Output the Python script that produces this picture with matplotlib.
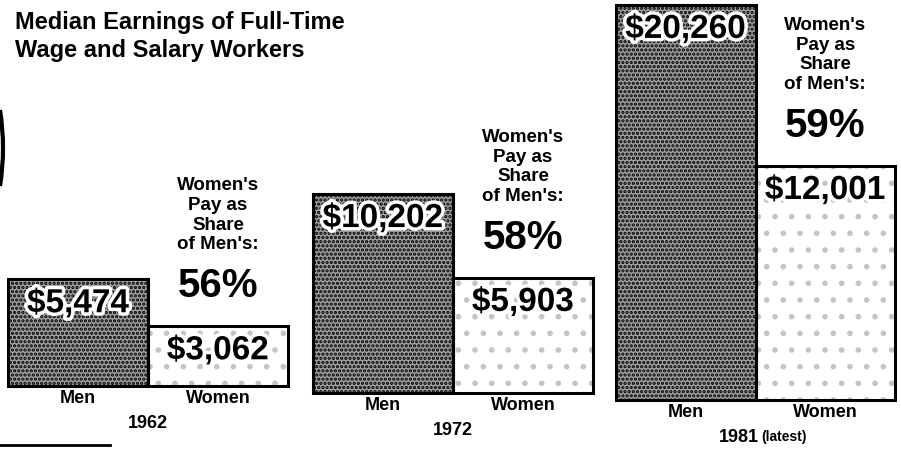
import numpy as np
import matplotlib
matplotlib.use('Agg')
import matplotlib.pyplot as plt
import matplotlib.patheffects as pe
from matplotlib.lines import Line2D
from matplotlib.patches import Arc

plt.rcParams['font.family'] = ['Liberation Sans', 'DejaVu Sans']
plt.rcParams['hatch.linewidth'] = 1.6

years = ['1962', '1972', '1981']
year_notes = ['', '', '(latest)']
sexes = ['Men', 'Women']
men = [5474, 10202, 20260]
women = [3062, 5903, 12001]
share = [56, 58, 59]

W, H = 901, 449
fig = plt.figure(figsize=(W / 100, H / 100), dpi=100)

# each year panel: left, right, baseline (pixels) - the scan is slightly tilted
panels = [(8, 288, 386), (313, 593, 393), (616, 895, 400)]
px_per_dollar = 0.0195
pt = 72 / 100  # pixels -> points

for i, (l, r, base) in enumerate(panels):
    ax = fig.add_axes([l / W, (H - base) / H, (r - l) / W, base / H])
    ax.set_xlim(0, 2)
    ax.set_ylim(0, base / px_per_dollar)
    ax.axis('off')

    vals = [men[i], women[i]]
    # stipple fills first, then the black outlines
    ax.bar([0], [men[i]], width=1, align='edge', facecolor='#a0a0a0',
           edgecolor='black', hatch='....', linewidth=0, clip_on=False)
    ax.bar([1], [women[i]], width=1, align='edge', facecolor='white',
           edgecolor='#c4c4c4', hatch='.', linewidth=0, clip_on=False)
    ax.bar([0, 1], vals, width=1, align='edge', fill=False,
           edgecolor='black', linewidth=2.2, clip_on=False)

    for x, v in enumerate(vals):
        t = ax.annotate(f'${v:,}', xy=(x + 0.5, v), xytext=(0, -9 * pt),
                        textcoords='offset points', ha='center', va='top',
                        fontsize=24, fontweight='bold', annotation_clip=False)
        t.set_path_effects([pe.withStroke(linewidth=5, foreground='white')])
        ax.annotate(sexes[x], xy=(x + 0.5, 0), xytext=(0, -4 * pt),
                    textcoords='offset points', ha='center', va='top',
                    fontsize=13, fontweight='bold', annotation_clip=False)

    # share of men's pay above the women's bar
    ax.annotate("Women's\nPay as\nShare\nof Men's:", xy=(1.5, women[i]),
                xytext=(0, 77 * pt), textcoords='offset points',
                ha='center', va='baseline', fontsize=13.5, fontweight='bold',
                linespacing=1.2, annotation_clip=False)
    ax.annotate(f'{share[i]}%', xy=(1.5, women[i]), xytext=(0, 40 * pt),
                textcoords='offset points', ha='center', va='center',
                fontsize=29, fontweight='bold', annotation_clip=False)

    if year_notes[i]:
        ax.annotate(years[i], xy=(1, 0), xytext=(3 * pt, -29 * pt),
                    textcoords='offset points', ha='right', va='top',
                    fontsize=13, fontweight='bold', annotation_clip=False)
        ax.annotate(year_notes[i], xy=(1, 0), xytext=(6 * pt, -30 * pt),
                    textcoords='offset points', ha='left', va='top',
                    fontsize=10, fontweight='bold', annotation_clip=False)
    else:
        ax.annotate(years[i], xy=(1, 0), xytext=(0, -29 * pt),
                    textcoords='offset points', ha='center', va='top',
                    fontsize=13, fontweight='bold', annotation_clip=False)

fig.text(15 / W, 1 - 11 / H, 'Median Earnings of Full-Time\nWage and Salary Workers',
         ha='left', va='top', fontsize=17, fontweight='bold', linespacing=1.25)

# edge of the clipping: rule at lower left, curve at left
fig.add_artist(Line2D([0, 110 / W], [4 / H, 4 / H], color='black', linewidth=2))
fig.add_artist(Arc((-240, H - 148), 486, 486, theta1=-9, theta2=9,
                   transform=None, color='black', linewidth=3))

fig.savefig('out.png', dpi=100)
